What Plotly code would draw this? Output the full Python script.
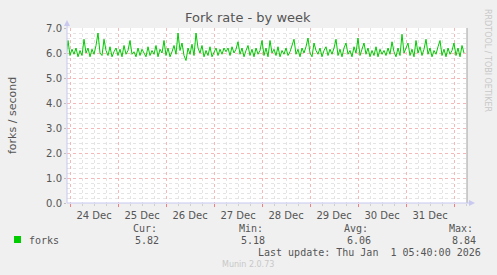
import plotly.graph_objects as go
import pandas as pd

# ---- data (hourly samples) ----
start_time = "2025-12-23 22:00"
fork_rate = [
    5.85, 6.50, 5.90, 6.15, 5.95, 6.20, 5.85, 6.10, 5.90, 6.55, 6.00, 6.20, 5.85, 6.15, 5.95, 6.30, 6.80, 6.00, 5.90, 6.55,
    6.10, 5.90, 6.25, 5.85, 6.05, 6.20, 5.90, 6.15, 5.85, 6.30, 5.95, 6.10, 6.50, 5.95, 6.05, 5.85, 6.20, 5.90, 6.15, 6.00,
    5.85, 6.25, 5.90, 6.10, 5.95, 6.30, 5.85, 6.15, 6.00, 6.50, 5.90, 6.20, 5.85, 6.05, 6.30, 5.95, 6.80, 6.10, 6.40, 5.90,
    5.70, 6.20, 5.95, 6.35, 5.90, 6.80, 6.20, 6.00, 6.30, 5.85, 6.10, 5.90, 6.25, 5.85, 6.05, 6.20, 5.90, 6.15, 5.95, 6.20,
    6.05, 6.20, 5.90, 6.25, 6.00, 6.15, 6.45, 5.95, 6.20, 5.85, 6.10, 6.30, 5.90, 6.15, 5.85, 6.20, 5.95, 6.10, 6.50, 5.90,
    6.20, 5.85, 6.50, 6.00, 6.15, 5.90, 6.25, 5.85, 6.10, 5.95, 6.20, 5.90, 6.05, 6.30, 6.55, 5.95, 6.15, 5.85, 6.20, 6.00,
    6.25, 6.60, 6.00, 5.85, 6.40, 6.10, 5.95, 6.20, 5.85, 6.10, 6.25, 5.90, 6.15, 5.95, 6.20, 6.55, 5.90, 6.15, 5.85, 6.20,
    6.40, 5.95, 6.10, 5.85, 6.25, 6.00, 6.60, 5.90, 6.15, 6.40, 5.95, 6.20, 5.85, 6.10, 5.90, 6.25, 5.85, 6.15, 5.95, 6.10,
    5.90, 6.20, 5.95, 6.45, 6.05, 5.85, 6.20, 5.90, 6.75, 6.00, 6.20, 6.40, 5.90, 6.15, 5.85, 6.50, 6.00, 6.25, 5.90, 6.15,
    6.55, 5.95, 6.20, 5.85, 6.10, 5.95, 6.25, 6.50, 5.90, 6.15, 5.85, 6.20, 5.95, 6.10, 6.40, 5.90, 6.20, 5.85, 6.30, 6.00,
]
times = pd.date_range(start_time, periods=len(fork_rate), freq="h")

series_name = "forks"
stat_labels = ["Cur:", "Min:", "Avg:", "Max:"]
stat_values = ["5.82", "5.18", "6.06", "8.84"]
title = "Fork rate - by week"
y_title = "forks / second"
last_update = "Last update: Thu Jan  1 05:40:00 2026"
x_range = ["2025-12-23 22:30", "2026-01-01 06:30"]

# ---- layout geometry (pixels) ----
W, H = 497, 275
L, R, T, B = 67, 467, 28, 203
def px(x): return (x - L) / (R - L)
def py(y): return (B - y) / (B - T)

GREEN = "#00CC00"
TXT = "#555555"
MONO = "DejaVu Sans Mono"
SANS = "DejaVu Sans"
AXIS = "#C8C8F0"
MAJOR = "#F4B8B8"
MINOR = "#E4E4E4"

fig = go.Figure()
fig.add_trace(go.Scatter(x=times, y=fork_rate, mode="lines",
                         line=dict(color=GREEN, width=1), hoverinfo="skip",
                         showlegend=False))

fig.update_layout(
    width=W, height=H,
    margin=dict(l=L, r=W - R, t=T, b=H - B),
    paper_bgcolor="#F0F0F0", plot_bgcolor="#FFFFFF",
    showlegend=False,
    xaxis=dict(
        type="date", range=x_range,
        tick0="2025-12-24", dtick=86400000,
        ticklabelmode="period", tickformat="%d %b",
        showgrid=True, gridcolor=MAJOR, griddash="dot", gridwidth=1,
        ticks="outside", ticklen=3, tickcolor="#F08080",
        tickfont=dict(family=SANS, size=10, color=TXT),
        minor=dict(dtick=6 * 3600000, showgrid=True, gridcolor=MINOR,
                   griddash="dot", ticks="outside", ticklen=2, tickcolor="#D0D0D0"),
        showline=False, zeroline=False, fixedrange=True,
    ),
    yaxis=dict(
        range=[0, 7], dtick=1, tick0=0, tickformat=".1f",
        showgrid=True, gridcolor=MAJOR, griddash="dot", gridwidth=1,
        ticks="outside", ticklen=2, tickcolor="#C0C0C0",
        tickfont=dict(family=SANS, size=10, color=TXT),
        minor=dict(dtick=0.2, showgrid=True, gridcolor=MINOR, griddash="dot"),
        showline=False, zeroline=False, fixedrange=True,
    ),
)

shapes = []
# right border
shapes.append(dict(type="line", xref="paper", yref="paper", x0=px(467), x1=px(467),
                   y0=py(28), y1=py(203), line=dict(color="#A0A0A0", width=1)))
# left axis line with arrow
shapes.append(dict(type="line", xref="paper", yref="paper", x0=px(67), x1=px(67),
                   y0=py(203), y1=py(25), line=dict(color=AXIS, width=1)))
shapes.append(dict(type="path", xref="paper", yref="paper",
                   path=f"M {px(64)} {py(26)} L {px(70)} {py(26)} L {px(67)} {py(20)} Z",
                   fillcolor=AXIS, line=dict(width=0)))
# bottom axis line with arrow
shapes.append(dict(type="line", xref="paper", yref="paper", x0=px(67), x1=px(470),
                   y0=py(203), y1=py(203), line=dict(color=AXIS, width=1)))
shapes.append(dict(type="path", xref="paper", yref="paper",
                   path=f"M {px(469)} {py(200)} L {px(469)} {py(206)} L {px(475)} {py(203)} Z",
                   fillcolor=AXIS, line=dict(width=0)))
# legend swatch
shapes.append(dict(type="rect", xref="paper", yref="paper", x0=px(14), x1=px(21),
                   y0=py(243), y1=py(236), fillcolor=GREEN, line=dict(width=0)))
fig.update_layout(shapes=shapes)

ann = []
def A(text, x, y, xanchor="left", size=10, color=TXT, family=MONO, angle=0, yanchor="middle"):
    ann.append(dict(text=text, x=px(x), y=py(y), xref="paper", yref="paper",
                    xanchor=xanchor, yanchor=yanchor, showarrow=False, textangle=angle,
                    font=dict(family=family, size=size, color=color)))

A(title, 248, 18, xanchor="center", size=13, family=SANS)
A(y_title, 12, 115, xanchor="center", size=11, family=SANS, angle=-90)
A("RRDTOOL / TOBI OETIKER", 488, 60, xanchor="center", size=8, color="#C8C8C8", family=SANS, angle=90)
A(series_name, 27, 240)
label_x = [131, 237, 342, 447]
value_right = [161, 267, 373, 478]
for lab, lx, val, vr in zip(stat_labels, label_x, stat_values, value_right):
    A(lab, lx, 228)
    A(val, vr, 240, xanchor="right")
A(last_update, 483, 252, xanchor="right")
A("Munin 2.0.73", 248, 264, xanchor="center", size=8, color="#C8C8C8", family=SANS)
fig.update_layout(annotations=ann)

fig.write_html("out.html")
